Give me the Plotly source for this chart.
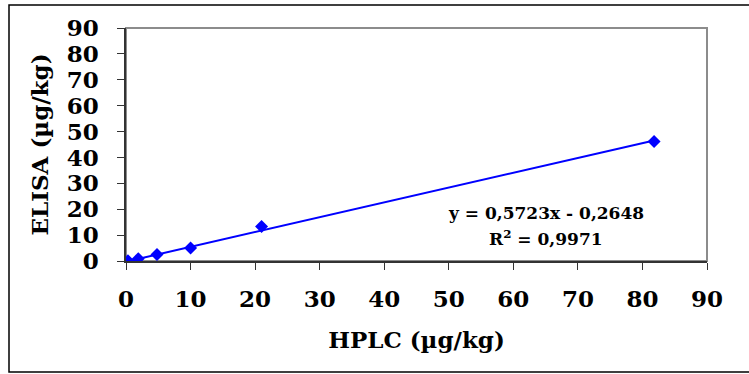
import plotly.graph_objects as go

hplc = [0.3, 1.9, 4.8, 10.0, 21.0, 81.8]
elisa = [0.1, 0.9, 2.5, 5.0, 13.3, 46.2]
slope = 0.5723
intercept = -0.2648
eq_text = "y = 0,5723x - 0,2648"
r2_text = "R<sup>2</sup> = 0,9971"
x_ticks = list(range(0, 91, 10))
y_ticks = list(range(0, 91, 10))

FONT = "DejaVu Serif"
BLUE = "#0000FF"

fig = go.Figure()
xt = [min(hplc), max(hplc)]
fig.add_trace(go.Scatter(x=xt, y=[slope * v + intercept for v in xt], mode="lines",
                         line=dict(color=BLUE, width=2), showlegend=False, hoverinfo="skip"))
fig.add_trace(go.Scatter(x=hplc, y=elisa, mode="markers",
                         marker=dict(symbol="diamond", size=10, color=BLUE), showlegend=False))

W, H = 749, 374
L, R, T, B = 126, 42, 28, 113
pw, ph = W - L - R, H - T - B

def px2paper(x, y):
    return (x - L) / pw, (H - B - y) / ph

x0, y0 = px2paper(9, 372)
x1, y1 = px2paper(752, 5)
fig.add_shape(type="rect", xref="paper", yref="paper", x0=x0, y0=y0, x1=x1, y1=y1,
              line=dict(color="black", width=1.5), layer="below")
fig.add_shape(type="rect", xref="paper", yref="paper", x0=0, y0=0, x1=1, y1=1,
              line=dict(color="#8c8c8c", width=2), layer="below")

fig.add_annotation(x=65.1, y=18.5, text=eq_text, showarrow=False,
                   font=dict(family=FONT, size=17, color="black", weight="bold"))
fig.add_annotation(x=65.1, y=8.9, text=r2_text, showarrow=False,
                   font=dict(family=FONT, size=17, color="black", weight="bold"))

tickfont = dict(family=FONT, size=23, color="black", weight="bold")
titlefont = dict(family=FONT, size=23, color="black", weight="bold")
fig.update_xaxes(range=[0, 90], tickvals=x_ticks, ticktext=[str(v) for v in x_ticks],
                 showgrid=False, zeroline=False, showline=True, linecolor="#333333", linewidth=1.5,
                 ticks="outside", ticklen=7, tickcolor="#333333", tickfont=tickfont,
                 ticklabelstandoff=10,
                 title=dict(text="HPLC (µg/kg)", font=titlefont, standoff=21))
fig.update_yaxes(range=[0, 90], tickvals=y_ticks, ticktext=[str(v) for v in y_ticks],
                 showgrid=False, zeroline=False, showline=True, linecolor="#333333", linewidth=1.5,
                 ticks="outside", ticklen=7, tickcolor="#333333", tickfont=tickfont,
                 ticklabelstandoff=14,
                 title=dict(text="ELISA (µg/kg)", font=titlefont, standoff=12))
fig.update_layout(width=W, height=H, margin=dict(l=L, r=R, t=T, b=B, autoexpand=False),
                  plot_bgcolor="white", paper_bgcolor="white")
fig.write_html("out.html")
